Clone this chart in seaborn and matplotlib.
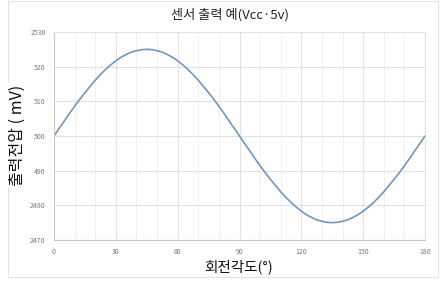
import matplotlib
matplotlib.use("Agg")
import matplotlib.pyplot as plt
import seaborn as sns
import pandas as pd
from matplotlib.patches import Rectangle
from matplotlib.ticker import MultipleLocator

angles = [0, 2.5, 5, 7.5, 10, 12.5, 15, 17.5, 20, 22.5, 25, 27.5, 30, 32.5, 35, 37.5, 40, 42.5,
          45, 47.5, 50, 52.5, 55, 57.5, 60, 62.5, 65, 67.5, 70, 72.5, 75, 77.5, 80, 82.5, 85, 87.5,
          90, 92.5, 95, 97.5, 100, 102.5, 105, 107.5, 110, 112.5, 115, 117.5, 120, 122.5, 125, 127.5,
          130, 132.5, 135, 137.5, 140, 142.5, 145, 147.5, 150, 152.5, 155, 157.5, 160, 162.5, 165,
          167.5, 170, 172.5, 175, 177.5, 180]
voltage = [2500.0, 2502.2, 2504.3, 2506.5, 2508.6, 2510.6, 2512.5, 2514.3, 2516.1, 2517.7,
           2519.2, 2520.5, 2521.7, 2522.7, 2523.5, 2524.2, 2524.6, 2524.9, 2525.0, 2524.9,
           2524.6, 2524.2, 2523.5, 2522.7, 2521.7, 2520.5, 2519.2, 2517.7, 2516.1, 2514.3,
           2512.5, 2510.6, 2508.6, 2506.5, 2504.3, 2502.2, 2500.0, 2497.8, 2495.7, 2493.5,
           2491.4, 2489.4, 2487.5, 2485.7, 2483.9, 2482.3, 2480.8, 2479.5, 2478.3, 2477.3,
           2476.5, 2475.8, 2475.4, 2475.1, 2475.0, 2475.1, 2475.4, 2475.8, 2476.5, 2477.3,
           2478.3, 2479.5, 2480.8, 2482.3, 2483.9, 2485.7, 2487.5, 2489.4, 2491.4, 2493.5,
           2495.7, 2497.8, 2500.0]
y_ticks = [2470, 2480, 2490, 2500, 2510, 2520, 2530]
y_tick_labels = ["2470", "2480", "490", "500", "510", "520", "2530"]
x_ticks = [0, 30, 60, 90, 120, 150, 180]
x_tick_labels = ["0", "30", "60", "90", "120", "150", "180"]

title = "센서 출력 예(Vcc·5v)"
xlabel = "회전각도(°)"
ylabel = "출력전압 ( mV)"

sns.set_theme(style="white")
plt.rcParams['font.family'] = ['Noto Sans CJK KR', 'DejaVu Sans']

df = pd.DataFrame({"angle": angles, "voltage": voltage})

fig = plt.figure(figsize=(4.4, 2.82), dpi=100)
fig.patch.set_facecolor("white")
ax = fig.add_axes([54/440, 42/282, 371/440, 208/282])

# chart border
fig.add_artist(Rectangle((8/440, 5/282), 430/440, 276/282, transform=fig.transFigure,
                         fill=False, edgecolor="#e3e3e3", linewidth=0.8, zorder=0))

sns.lineplot(data=df, x="angle", y="voltage", ax=ax, color="#7097c0", linewidth=1.2)

ax.set_xlim(0, 180)
ax.set_ylim(2470, 2530)
ax.set_xticks(x_ticks)
ax.set_xticklabels(x_tick_labels)
ax.set_yticks(y_ticks)
ax.set_yticklabels(y_tick_labels)
ax.xaxis.set_minor_locator(MultipleLocator(10))
ax.grid(which="major", axis="both", color="#e2e2e2", linewidth=0.8)
ax.grid(which="minor", axis="x", color="#f0f0f0", linewidth=0.7)
ax.set_axisbelow(True)
ax.tick_params(axis="both", which="both", length=0, labelsize=5, labelcolor="#777777", pad=6)

for side in ["top", "right"]:
    ax.spines[side].set_color("#e2e2e2")
    ax.spines[side].set_linewidth(0.8)
for side in ["left", "bottom"]:
    ax.spines[side].set_color("#c8c8c8")
    ax.spines[side].set_linewidth(0.8)

ax.set_xlabel("")
ax.set_ylabel("")
fig.text(230/440, 1 - 15/282, title, ha="center", va="center", fontsize=9.5, color="#222222",
         bbox=dict(facecolor="white", edgecolor="none", pad=1))
fig.text(239/440, 1 - 267/282, xlabel, ha="center", va="center", fontsize=10.5, color="#111111",
         bbox=dict(facecolor="white", edgecolor="none", pad=2))
fig.text(17/440, 1 - 135/282, ylabel, ha="center", va="center", rotation=90, fontsize=11.5,
         color="#111111", bbox=dict(facecolor="white", edgecolor="none", pad=2))

fig.savefig("out.png", dpi=100, facecolor="white")
